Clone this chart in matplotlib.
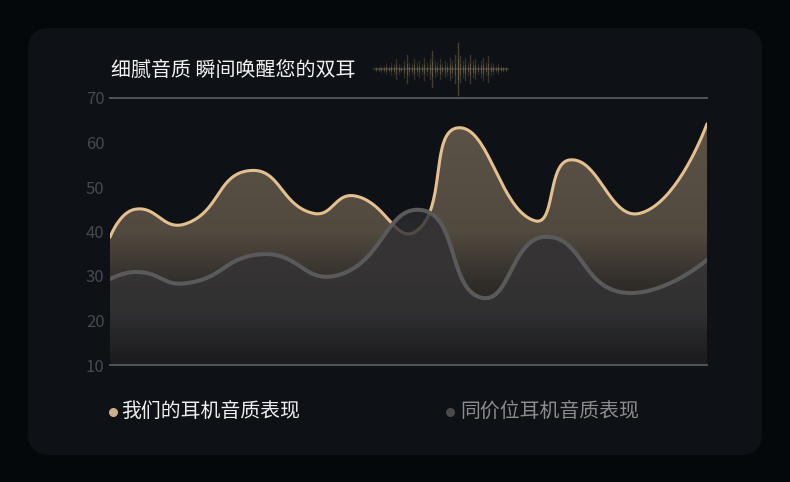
import numpy as np
import matplotlib
matplotlib.use("Agg")
import matplotlib.pyplot as plt
from matplotlib.patches import FancyBboxPatch, Polygon

plt.rcParams['font.family'] = ['Noto Sans CJK SC', 'DejaVu Sans']

# data (x on a 0-100 scale across the plot)
ours_x = [0, 4.2, 12.6, 23.5, 34.0, 41.0, 51.2, 58.3, 71.2, 77.1, 88.8, 100]
ours_y = [38.7, 45.0, 41.7, 53.7, 44.1, 48.0, 40.0, 63.3, 42.4, 56.1, 44.1, 64.2]
rival_x = [0, 4.7, 12.9, 25.6, 38.2, 52.3, 62.3, 72.9, 85.9, 100]
rival_y = [29.3, 30.9, 28.4, 34.9, 30.2, 44.8, 25.1, 38.8, 26.3, 33.6]
yticks = [10, 20, 30, 40, 50, 60, 70]
title = "细腻音质 瞬间唤醒您的双耳"
names = ["我们的耳机音质表现", "同价位耳机音质表现"]

# decorative sound wave next to the title
wave = [1, 1, 2, 2, 3, 2, 4, 3, 6, 3, 2, 5, 9, 4, 3, 6, 4, 5, 3, 7, 4, 6, 11, 5, 4, 6, 3,
        5, 4, 7, 5, 9, 16, 8, 5, 7, 4, 9, 5, 6, 3, 5, 7, 4, 8, 4, 3, 2, 3, 2, 1, 1]

GOLD = '#e4c08e'
GRAY = '#5a5a5a'
SX, SY = 5.97, 4.45   # pixels per data unit, for the smoothing


def smooth_curve(xs, ys, smooth=0.5, n=40):
    P = np.column_stack([np.array(xs) * SX, np.array(ys) * SY])
    m = len(P)
    cin = P.copy()
    cout = P.copy()
    for i in range(1, m - 1):
        v = P[i + 1] - P[i - 1]
        d0 = np.hypot(*(P[i] - P[i - 1]))
        d1 = np.hypot(*(P[i + 1] - P[i]))
        r = d1 / (d0 + d1)
        cout[i] = P[i] + v * smooth * r
        cin[i] = P[i] - v * smooth * (1 - r)
    t = np.linspace(0, 1, n)[:, None]
    pts = []
    for i in range(m - 1):
        seg = ((1 - t) ** 3 * P[i] + 3 * (1 - t) ** 2 * t * cout[i]
               + 3 * (1 - t) * t ** 2 * cin[i + 1] + t ** 3 * P[i + 1])
        pts.append(seg if i == 0 else seg[1:])
    pts = np.vstack(pts)
    return pts[:, 0] / SX, pts[:, 1] / SY


def gradient_fill(ax, cx, cy, stops, z):
    vals = np.linspace(10, 70, 300)
    sv = [s[0] for s in stops]
    img = np.zeros((300, 1, 4))
    for k in range(4):
        img[:, 0, k] = np.interp(vals, sv, [s[1][k] for s in stops])
    im = ax.imshow(img, extent=[0, 100, 10, 70], origin='lower', aspect='auto',
                   interpolation='bilinear', zorder=z)
    verts = np.column_stack([np.r_[cx, 100, 0], np.r_[cy, 10, 10]])
    clip = Polygon(verts, closed=True, transform=ax.transData)
    im.set_clip_path(clip)


fig = plt.figure(figsize=(7.9, 4.82), dpi=100, facecolor='#05080b')

bg = fig.add_axes([0, 0, 1, 1])
bg.set_xlim(0, 790)
bg.set_ylim(482, 0)
bg.axis('off')
bg.add_patch(FancyBboxPatch((28, 28), 734, 427, boxstyle="round,pad=0,rounding_size=22",
                            fc='#0e1216', ec='none'))
bg.text(111, 71, title, color='#f2f2f2', fontsize=14.4, va='center', ha='left')

# sound wave
wx = np.linspace(376, 506, len(wave))
bg.plot([374, 508], [69, 69], color='#6e604d', lw=1.2, alpha=0.45)
for x, h in zip(wx, wave):
    bg.plot([x, x], [69 - h * 1.6, 69 + h * 1.6], color='#8a7659', lw=1.0,
            alpha=min(0.15 + h * 0.025, 0.5))
    bg.plot([x, x], [69 - h * 0.6, 69 + h * 0.6], color='#a08a6a', lw=0.8,
            alpha=0.35)

# legend
bg.scatter([113], [412], s=30, color='#cdb08a', zorder=3)
bg.text(121, 412, names[0], color='#eeeeee', fontsize=14.3, va='center', ha='left')
bg.scatter([450], [412], s=30, color='#4a4a4a', zorder=3)
bg.text(460, 412, names[1], color='#8c8c8c', fontsize=14.3, va='center', ha='left')

ax = fig.add_axes([110 / 790, (482 - 365) / 482, 597 / 790, 267 / 482])
ax.set_xlim(0, 100)
ax.set_ylim(10, 70)
ax.patch.set_alpha(0)
for s in ax.spines.values():
    s.set_visible(False)
ax.set_xticks([])
ax.set_yticks(yticks)
ax.set_yticklabels([str(v) for v in yticks], color='#464a4e', fontsize=12)
ax.tick_params(axis='y', length=0, pad=4)
ax.axhline(70, color='#4d5054', lw=1.5, clip_on=False, zorder=6)
ax.axhline(10, color='#4d5054', lw=1.5, clip_on=False, zorder=6)

gx, gy = smooth_curve(ours_x, ours_y)
rx, ry = smooth_curve(rival_x, rival_y)

gradient_fill(ax, gx, gy, [(10, (0.08, 0.08, 0.085, 1)), (28, (0.19, 0.175, 0.16, 1)),
                           (40, (0.32, 0.29, 0.25, 1)), (65, (0.36, 0.325, 0.28, 1))], 1)
ax.plot(gx, gy, color=GOLD, lw=2.2, zorder=2, solid_capstyle='round')
gradient_fill(ax, rx, ry, [(10, (0.11, 0.115, 0.125, 0.8)), (22, (0.2, 0.2, 0.21, 0.8)),
                           (30, (0.21, 0.205, 0.215, 0.8)), (45, (0.17, 0.17, 0.19, 0.8))], 3)
ax.plot(rx, ry, color=GRAY, lw=2.9, zorder=4, solid_capstyle='round')

fig.savefig('out.png', dpi=100, facecolor=fig.get_facecolor())
